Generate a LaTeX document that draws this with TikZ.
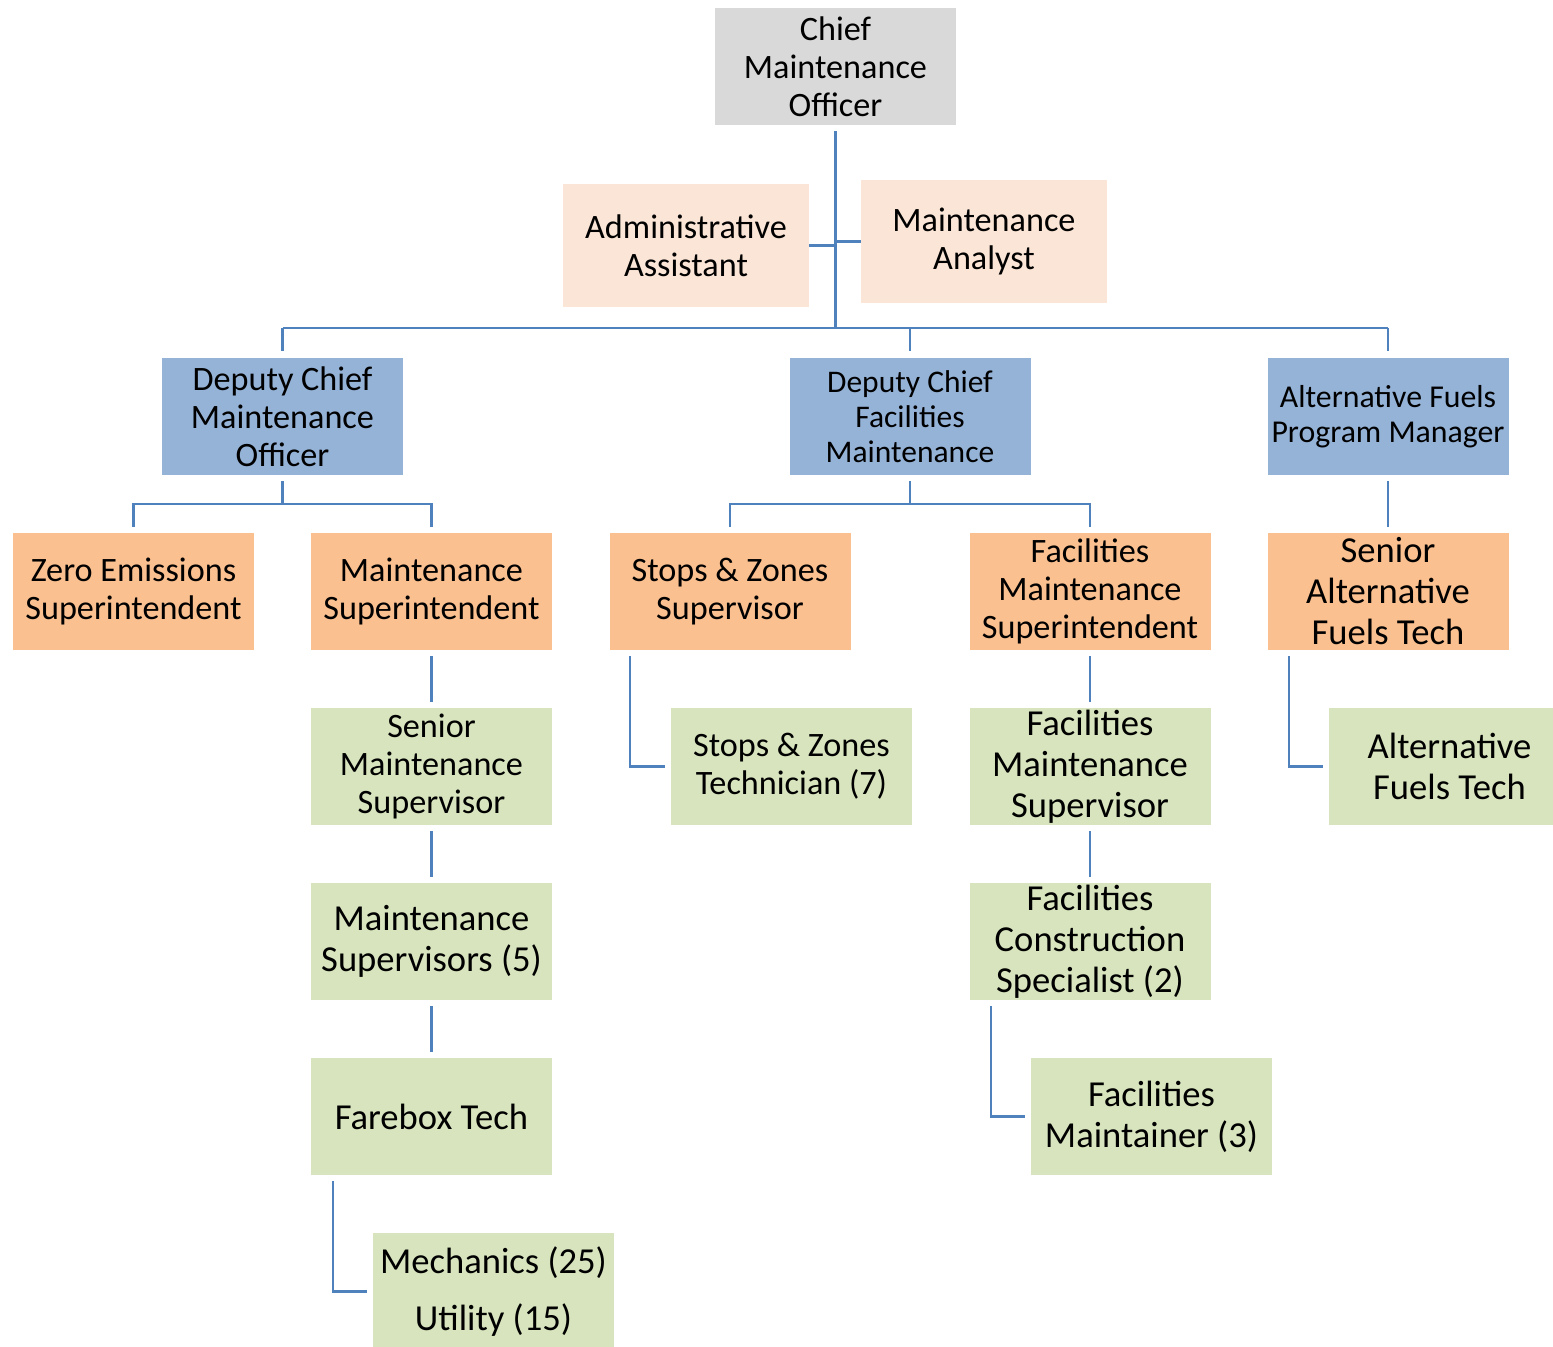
\documentclass[tikz,border=0pt]{standalone}
\usepackage{fontspec}
\setmainfont{Carlito}
\usetikzlibrary{calc}
\definecolor{topgray}{HTML}{D9D9D9}
\definecolor{staffpeach}{HTML}{FBE5D6}
\definecolor{deputyblue}{HTML}{95B3D7}
\definecolor{supoorange}{HTML}{FAC090}
\definecolor{staffgreen}{HTML}{D7E4BD}
\definecolor{linkblue}{HTML}{4F81BD}
\newcommand{\fsA}{\fontsize{17.1}{19}\selectfont}
\newcommand{\fsB}{\fontsize{18.3}{20.5}\selectfont}
\newcommand{\fsC}{\fontsize{15.75}{17.5}\selectfont}
\begin{document}
\begin{tikzpicture}[x=0.5pt,y=-0.5pt,
  box/.style={rectangle, minimum width=120.5pt, minimum height=58.5pt,
    inner sep=0pt, align=center, text=black},
  chiefbox/.style={box, fill=topgray, font=\fsA},
  staffbox/.style={box, fill=staffpeach, font=\fsA,
    minimum width=123pt, minimum height=61.5pt},
  deputybox/.style={box, fill=deputyblue},
  superbox/.style={box, fill=supoorange, font=\fsA},
  crewbox/.style={box, fill=staffgreen, font=\fsB},
  conn/.style={draw=linkblue, line width=1.1pt}]
\useasboundingbox (0,0) rectangle (1553,1347);
\clip (0,0) rectangle (1553,1347);

% top level and staff
\node[chiefbox] (chief) at (835.5,66.5) {Chief\\Maintenance\\Officer};
\node[staffbox] (admin) at (686,245.5) {Administrative\\Assistant};
\node[staffbox] (analyst) at (984,241.5) {Maintenance\\Analyst};

% deputies
\node[deputybox, font=\fsA] (dcmo) at (282.5,416.5) {Deputy Chief\\Maintenance\\Officer};
\node[deputybox, font=\fsC] (dcfm) at (910,416.5) {Deputy Chief\\Facilities\\Maintenance};
\node[deputybox, font=\fontsize{15.9}{17.5}\selectfont] (afpm) at (1388,416.5) {Alternative Fuels\\Program Manager};

% superintendents and supervisors
\node[superbox] (zero) at (133.5,591.5) {Zero Emissions\\Superintendent};
\node[superbox] (msup) at (431.5,591.5) {Maintenance\\Superintendent};
\node[superbox] (szs) at (730,591.5) {Stops \& Zones\\Supervisor};
\node[superbox] (fms) at (1090,591.5) {Facilities\\Maintenance\\Superintendent};
\node[superbox, font=\fsB] (saft) at (1388,591.5) {Senior\\Alternative\\Fuels Tech};

% crews
\node[crewbox, font=\fsA] (sms) at (431.5,766.5) {Senior\\Maintenance\\Supervisor};
\node[crewbox, font=\fsA] (szt) at (791.5,766.5) {Stops \& Zones\\Technician (7)};
\node[crewbox] (fmsv) at (1090,766.5) {Facilities\\Maintenance\\Supervisor};
\node[crewbox] (aft) at (1449.5,766.5) {Alternative\\Fuels Tech};
\node[crewbox] (ms5) at (431.5,941.5) {Maintenance\\Supervisors (5)};
\node[crewbox] (fcs) at (1090,941.5) {Facilities\\Construction\\Specialist (2)};
\node[crewbox] (fb) at (431.5,1116.5) {Farebox Tech};
\node[crewbox] (fm3) at (1151.5,1116.5) {Facilities\\Maintainer (3)};
\node[crewbox, font=\fontsize{18.3}{28.5}\selectfont] (mech) at (493.5,1291.5) {Mechanics (25)\\Utility (15)};

% bus rows
\coordinate (bus) at (0,328);
\coordinate (busA) at (0,504);

% chief to staff and deputies
\draw[conn] ($(chief.south)+(0,6)$) -- (chief.south |- bus);
\draw[conn] (admin.east) -- (admin.east -| chief.south);
\draw[conn] (analyst.west) -- (analyst.west -| chief.south);
\draw[conn] (dcmo.north |- bus) -- (afpm.north |- bus);
\draw[conn] (dcmo.north |- bus) -- ($(dcmo.north)+(0,-7)$);
\draw[conn] (dcfm.north |- bus) -- ($(dcfm.north)+(0,-7)$);
\draw[conn] (afpm.north |- bus) -- ($(afpm.north)+(0,-7)$);

% deputy chief maintenance officer branch
\draw[conn] ($(dcmo.south)+(0,6)$) -- (dcmo.south |- busA);
\draw[conn] ($(zero.north)+(0,-6)$) -- (zero.north |- busA) -- (msup.north |- busA) -- ($(msup.north)+(0,-6)$);
\draw[conn] ($(msup.south)+(0,6)$) -- ($(sms.north)+(0,-6)$);
\draw[conn] ($(sms.south)+(0,6)$) -- ($(ms5.north)+(0,-6)$);
\draw[conn] ($(ms5.south)+(0,6)$) -- ($(fb.north)+(0,-6)$);
\draw[conn] ($(fb.south west)+(22,6)$) |- ($(mech.west)+(-6,0)$);

% deputy chief facilities branch
\draw[conn] ($(dcfm.south)+(0,6)$) -- (dcfm.south |- busA);
\draw[conn] ($(szs.north)+(0,-6)$) -- (szs.north |- busA) -- (fms.north |- busA) -- ($(fms.north)+(0,-6)$);
\draw[conn] ($(szs.south west)+(21,6)$) |- ($(szt.west)+(-6,0)$);
\draw[conn] ($(fms.south)+(0,6)$) -- ($(fmsv.north)+(0,-6)$);
\draw[conn] ($(fmsv.south)+(0,6)$) -- ($(fcs.north)+(0,-6)$);
\draw[conn] ($(fcs.south west)+(22,6)$) |- ($(fm3.west)+(-6,0)$);

% alternative fuels branch
\draw[conn] ($(afpm.south)+(0,6)$) -- ($(saft.north)+(0,-6)$);
\draw[conn] ($(saft.south west)+(22,6)$) |- ($(aft.west)+(-6,0)$);
\end{tikzpicture}
\end{document}
